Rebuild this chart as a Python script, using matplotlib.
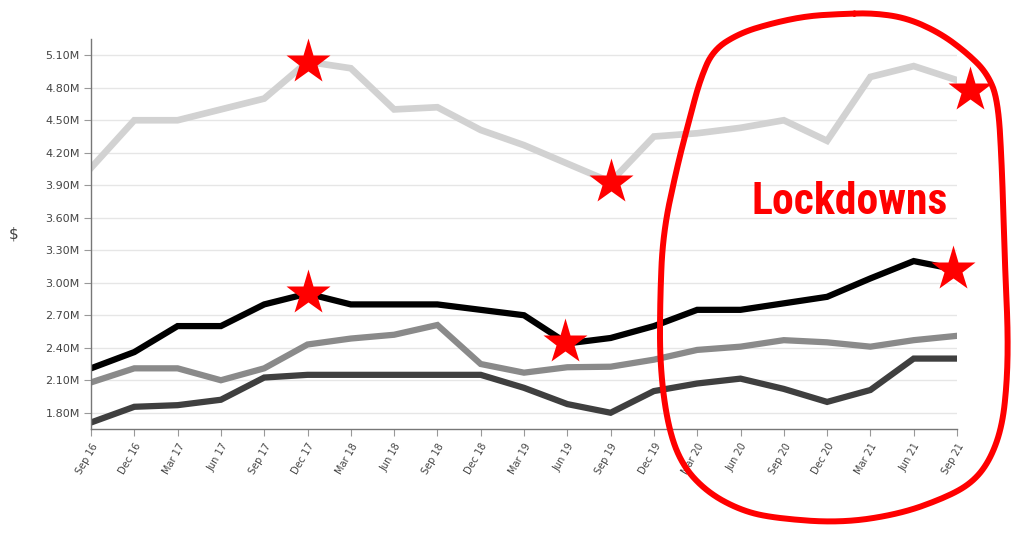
import numpy as np
import matplotlib
matplotlib.use("Agg")
import matplotlib.pyplot as plt
from matplotlib.lines import Line2D
from matplotlib import font_manager

quarters = ["Sep 16", "Dec 16", "Mar 17", "Jun 17", "Sep 17", "Dec 17", "Mar 18",
            "Jun 18", "Sep 18", "Dec 18", "Mar 19", "Jun 19", "Sep 19", "Dec 19",
            "Mar 20", "Jun 20", "Sep 20", "Dec 20", "Mar 21", "Jun 21", "Sep 21"]

# values in $M
light_gray = [4.06, 4.50, 4.50, 4.60, 4.70, 5.04, 4.98, 4.60, 4.62, 4.41, 4.27,
              4.10, 3.93, 4.35, 4.38, 4.43, 4.50, 4.31, 4.90, 5.00, 4.87]
black = [2.21, 2.36, 2.60, 2.60, 2.80, 2.90, 2.80, 2.80, 2.80, 2.75, 2.70,
         2.44, 2.49, 2.60, 2.75, 2.75, 2.81, 2.87, 3.04, 3.20, 3.12]
mid_gray = [2.08, 2.21, 2.21, 2.10, 2.21, 2.43, 2.485, 2.52, 2.61, 2.25, 2.17,
            2.22, 2.225, 2.29, 2.38, 2.41, 2.47, 2.45, 2.41, 2.47, 2.51]
dark_gray = [1.71, 1.855, 1.87, 1.92, 2.125, 2.15, 2.15, 2.15, 2.15, 2.15, 2.03,
             1.88, 1.80, 2.00, 2.07, 2.115, 2.02, 1.90, 2.01, 2.30, 2.30]

# red stars (quarter index, $M)
star_x = [5, 12, 20.3, 5, 10.95, 19.9]
star_y = [5.04, 3.93, 4.78, 2.91, 2.455, 3.13]

yticks = [1.8, 2.1, 2.4, 2.7, 3.0, 3.3, 3.6, 3.9, 4.2, 4.5, 4.8, 5.1]

W, H = 1024, 541
fig = plt.figure(figsize=(W / 100, H / 100), dpi=100)
ax = fig.add_axes([91 / W, 1 - 429 / H, (957 - 91) / W, (429 - 39) / H])

x = np.arange(len(quarters))
ax.plot(x, np.array(light_gray) * 1e6, color="#d2d2d2", lw=4.8, solid_joinstyle="miter")
ax.plot(x, np.array(mid_gray) * 1e6, color="#8a8a8a", lw=4.5, solid_joinstyle="miter")
ax.plot(x, np.array(dark_gray) * 1e6, color="#3f3f3f", lw=4.5, solid_joinstyle="miter")
ax.plot(x, np.array(black) * 1e6, color="#000000", lw=4.5, solid_joinstyle="miter")

ax.plot(star_x, np.array(star_y) * 1e6, ls="none", marker="*", ms=34,
        color="#ff0000", mec="none", clip_on=False, zorder=5)

ax.set_xlim(0, 20)
ax.set_ylim(1.65e6, 5.25e6)
ax.set_yticks(np.array(yticks) * 1e6)
ax.set_yticklabels([f"{v:.2f}M" for v in yticks])
ax.set_xticks(x)
ax.set_xticklabels(quarters, rotation=60, ha="right", va="top", rotation_mode="anchor")

ax.grid(axis="y", color="#e6e6e6", lw=1)
ax.set_axisbelow(True)
for s in ["top", "right"]:
    ax.spines[s].set_visible(False)
for s in ["left", "bottom"]:
    ax.spines[s].set_color("#777777")
    ax.spines[s].set_linewidth(1)
ax.tick_params(axis="y", length=5, color="#999999", labelsize=8, labelcolor="#444444", pad=3)
ax.tick_params(axis="x", length=5, color="#999999", labelsize=7, labelcolor="#444444", pad=4)

fig.text(14 / W, 1 - 234 / H, "$", fontsize=11, color="#444444", ha="center", va="center")

# pick a condensed bold face if one is installed
names = {f.name for f in font_manager.fontManager.ttflist}
cond = [n for n in ["Roboto Condensed", "Liberation Sans Narrow", "Open Sans Condensed"]
        if n in names]
lock_family = cond[:1] + ["DejaVu Sans"]
t = fig.text(850 / W, 1 - 202 / H, "Lockdowns", color="#ff0000", fontsize=31.5,
             fontweight="heavy", family=lock_family, fontstretch="condensed",
             ha="center", va="center")
fig.canvas.draw()
bb = t.get_window_extent()
if bb.width > 205:
    t.set_fontsize(31.5 * 198 / bb.width)

# hand drawn loop around the lockdown quarters (figure pixels)
loop = [(840, 14), (873, 13), (907, 18), (940, 33), (967, 53), (987, 73), (998, 100),
        (1002, 167), (1005, 267), (1008, 333), (1007, 383), (1002, 427), (990, 460),
        (973, 482), (947, 497), (900, 514), (840, 523), (773, 518), (740, 510),
        (707, 492), (682, 465), (668, 427), (660, 367), (660, 300), (663, 233),
        (677, 167), (690, 117), (700, 80), (713, 50), (740, 33), (773, 23), (807, 16)]
pts = np.array(loop + loop[:1], dtype=float)
for _ in range(3):
    a = pts[:-1]
    b = pts[1:]
    q = 0.75 * a + 0.25 * b
    r = 0.25 * a + 0.75 * b
    pts = np.empty((2 * len(a) + 1, 2))
    pts[0:-1:2] = q
    pts[1:-1:2] = r
    pts[-1] = pts[0]
fig.add_artist(Line2D(pts[:, 0] / W, 1 - pts[:, 1] / H, transform=fig.transFigure,
                      color="#ff0000", lw=4.3, solid_capstyle="round"))

fig.savefig("out.png", dpi=100)
